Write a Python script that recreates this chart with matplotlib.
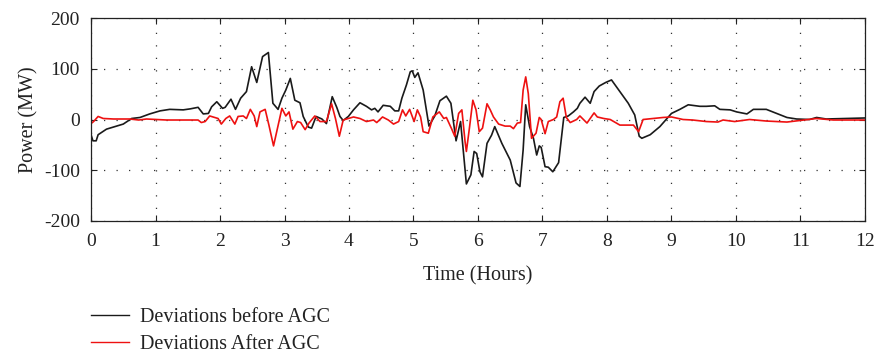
import matplotlib.pyplot as plt
from matplotlib.lines import Line2D

plt.rcParams['font.family'] = ['Liberation Serif', 'DejaVu Serif']
plt.rcParams['axes.unicode_minus'] = False

# Deviations before AGC (hours, MW)
t_before = [0, 0.03, 0.08, 0.11, 0.24, 0.50, 0.63, 0.76, 0.91, 1.07,
            1.22, 1.43, 1.54, 1.66, 1.74, 1.82, 1.87, 1.95, 2.04, 2.08,
            2.17, 2.24, 2.32, 2.41, 2.49, 2.57, 2.66, 2.75, 2.82, 2.90,
            2.96, 3.02, 3.09, 3.16, 3.24, 3.29, 3.37, 3.42, 3.49, 3.58,
            3.65, 3.74, 3.81, 3.86, 3.91, 3.99, 4.07, 4.17, 4.27, 4.35,
            4.40, 4.45, 4.53, 4.64, 4.71, 4.77, 4.82, 4.89, 4.95, 4.98,
            5.02, 5.07, 5.15, 5.24, 5.33, 5.41, 5.51, 5.58, 5.66, 5.73,
            5.82, 5.89, 5.94, 5.98, 6.03, 6.07, 6.14, 6.21, 6.26, 6.37,
            6.50, 6.59, 6.65, 6.70, 6.74, 6.80, 6.86, 6.91, 6.95, 6.98,
            7.04, 7.09, 7.16, 7.25, 7.33, 7.40, 7.48, 7.54, 7.58, 7.66,
            7.74, 7.80, 7.88, 7.98, 8.07, 8.20, 8.33, 8.43, 8.50, 8.54,
            8.67, 8.82, 9.00, 9.13, 9.26, 9.44, 9.54, 9.67, 9.75, 9.91,
            10.01, 10.17, 10.27, 10.47, 10.63, 10.79, 10.94, 11.14, 11.25, 11.40,
            11.72, 12.0]
p_before = [-30, -42, -42, -30, -19, -9, 2, 4, 11, 17,
            20, 19, 21, 24, 11, 12, 25, 35, 22, 24,
            40, 20, 42, 55, 104, 73, 124, 132, 32, 20,
            42, 58, 81, 38, 33, 6, -15, -17, 6, 1,
            -8, 45, 24, 6, -2, 6, 19, 33, 26, 19,
            22, 15, 28, 26, 17, 17, 42, 68, 94, 96,
            83, 92, 58, -13, 7, 37, 46, 32, -42, -4,
            -127, -109, -63, -67, -103, -113, -47, -31, -14, -47,
            -80, -125, -132, -60, 29, -14, -37, -70, -52, -55,
            -93, -94, -103, -85, 4, 7, 15, 22, 32, 44,
            32, 55, 66, 73, 78, 55, 32, 9, -33, -37,
            -30, -14, 12, 20, 29, 26, 26, 27, 20, 19,
            15, 11, 20, 20, 12, 4, 1, 0, 4, 1,
            2, 3]

# Deviations after AGC (hours, MW)
t_after = [0, 0.04, 0.11, 0.19, 0.35, 0.60, 0.74, 0.86, 1.02, 1.17,
           1.38, 1.66, 1.71, 1.77, 1.84, 1.92, 1.97, 2.02, 2.09, 2.15,
           2.23, 2.28, 2.36, 2.41, 2.47, 2.53, 2.57, 2.62, 2.70, 2.76,
           2.83, 2.90, 2.96, 3.02, 3.07, 3.13, 3.20, 3.25, 3.32, 3.38,
           3.47, 3.55, 3.65, 3.73, 3.79, 3.85, 3.91, 3.99, 4.07, 4.17,
           4.27, 4.38, 4.43, 4.52, 4.61, 4.69, 4.77, 4.83, 4.88, 4.94,
           5.01, 5.06, 5.11, 5.15, 5.23, 5.30, 5.40, 5.47, 5.51, 5.59,
           5.64, 5.70, 5.75, 5.80, 5.82, 5.87, 5.92, 5.97, 6.02, 6.07,
           6.14, 6.19, 6.24, 6.32, 6.42, 6.50, 6.55, 6.61, 6.66, 6.70,
           6.74, 6.78, 6.83, 6.90, 6.95, 6.98, 7.04, 7.09, 7.17, 7.22,
           7.27, 7.32, 7.37, 7.43, 7.53, 7.58, 7.69, 7.74, 7.80, 7.85,
           7.95, 8.05, 8.20, 8.41, 8.49, 8.56, 8.71, 8.87, 9.00, 9.18,
           9.33, 9.54, 9.72, 9.80, 9.98, 10.21, 10.47, 10.79, 10.99, 11.25,
           11.51, 11.82, 12.0]
p_after = [-8, -4, 6, 2, 1, 1, -1, 1, 0, -1,
           -1, -1, -6, -4, 7, 4, 2, -9, 2, 7,
           -9, 6, 7, 2, 20, 7, -14, 15, 20, -12,
           -52, -12, 22, 7, 15, -19, -4, -6, -20, -7,
           7, -4, -4, 31, 2, -33, -1, 2, 5, 2,
           -4, -1, -6, 5, -1, -9, -4, 19, 7, 20,
           -4, 19, 5, -24, -27, 5, 15, 2, 4, -18,
           -33, 12, 19, -44, -63, -14, 38, 19, -24, -17,
           31, 19, 5, -9, -13, -13, -18, -7, -6, 58,
           84, 51, -37, -27, 4, 0, -28, -4, 0, 5,
           35, 42, 4, -6, 0, 7, -7, 2, 13, 5,
           2, 0, -11, -11, -24, 0, 2, 4, 5, 0,
           -1, -4, -5, -1, -4, 0, -3, -5, -2, 2,
           -1, -1, -1]

x_ticks = list(range(0, 13))
y_ticks = [-200, -100, 0, 100, 200]

fig = plt.figure(figsize=(8.76, 3.57), dpi=100)
ax = fig.add_axes([0.1039, 0.381, 0.8835, 0.5685])

ax.plot(t_before, p_before, color='#1a1a1a', lw=1.2)
ax.plot(t_after, p_after, color='#ee1111', lw=1.2)

ax.set_xlim(0, 12)
ax.set_ylim(-200, 200)
ax.set_xticks(x_ticks)
ax.set_yticks(y_ticks)
ax.tick_params(direction='in', top=True, right=True, length=4, width=0.8,
               labelsize=14, colors='#222222')
ax.tick_params(axis='x', pad=9)
ax.tick_params(axis='y', pad=8)
ax.grid(True, color='#333333', linestyle=(0, (1, 9)), linewidth=0.9)
for s in ax.spines.values():
    s.set_linewidth(0.9)
    s.set_color('#222222')

ax.set_xlabel('Time (Hours)', fontsize=14.5, color='#222222', labelpad=11)
ax.set_ylabel('Power (MW)', fontsize=14.5, color='#222222', labelpad=4)

handles = [Line2D([], [], color='#1a1a1a', lw=1.0),
           Line2D([], [], color='#ee1111', lw=1.0)]
fig.legend(handles, ['Deviations before AGC', 'Deviations After AGC'],
           loc='upper left', bbox_to_anchor=(0.095, 0.16), frameon=False,
           fontsize=14.5, handlelength=1.85, handletextpad=0.55,
           labelspacing=0.4, borderaxespad=0, labelcolor='#222222')

fig.savefig('out.png', dpi=100)
